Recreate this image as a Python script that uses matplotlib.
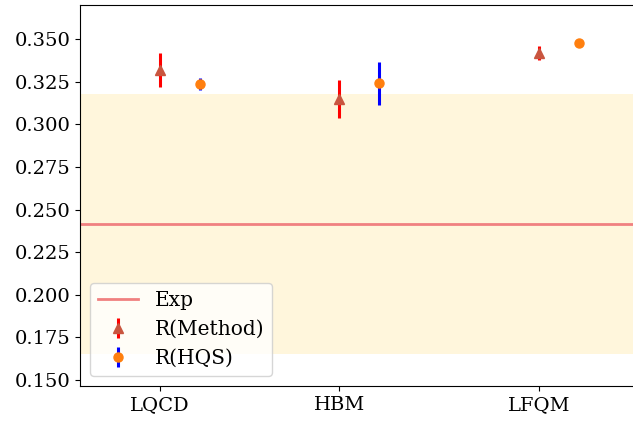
import matplotlib
matplotlib.use("Agg")
import matplotlib.pyplot as plt
import numpy as np

categories = ["LQCD", "HBM", "LFQM"]
cat_pos = [0.0, 1.0, 2.11]
method_vals = [0.332, 0.315, 0.342]
method_errs = [0.010, 0.011, 0.004]
hqs_vals = [0.3236, 0.3240, 0.3476]
hqs_errs = [0.0033, 0.0125, 0.0]
exp_val = 0.2415
exp_err = 0.0763

plt.rcParams['font.family'] = ['DejaVu Serif']
plt.rcParams['font.size'] = 14

fig = plt.figure(figsize=(6.33, 4.28), dpi=100)
W, H = 633, 428
left, right, top, bottom = 80, 660, 5, 386
ax = fig.add_axes([left / W, (H - bottom) / H, (right - left) / W, (bottom - top) / H])

unit = 179.5
xmin = -(160 - left) / unit
xmax = (right - 160) / unit
offset = 40 / unit

ax.axhspan(exp_val - exp_err, exp_val + exp_err, color='#fff6dc', zorder=0, lw=0)
ax.axhline(exp_val, color='#f08080', lw=2, label='Exp', zorder=1)

x = np.array(cat_pos)
ax.errorbar(x, method_vals, yerr=method_errs, fmt='^', color='#c9553f',
            ecolor='red', elinewidth=2.2, markersize=7, capsize=0, label='R(Method)', zorder=3)
ax.errorbar(x + offset, hqs_vals, yerr=hqs_errs, fmt='o', color='#ff7f0e',
            ecolor='blue', elinewidth=2.2, markersize=6.5, capsize=0, label='R(HQS)', zorder=3)

ax.set_xticks(x)
ax.set_xticklabels(categories)
ax.set_xlim(xmin, xmax)
ax.set_ylim(0.1465, 0.370)
ax.set_yticks([0.150, 0.175, 0.200, 0.225, 0.250, 0.275, 0.300, 0.325, 0.350])
ax.yaxis.set_major_formatter(matplotlib.ticker.FormatStrFormatter('%.3f'))

ax.legend(loc='lower left', fontsize=14.5)

fig.savefig("out.png", dpi=100)
